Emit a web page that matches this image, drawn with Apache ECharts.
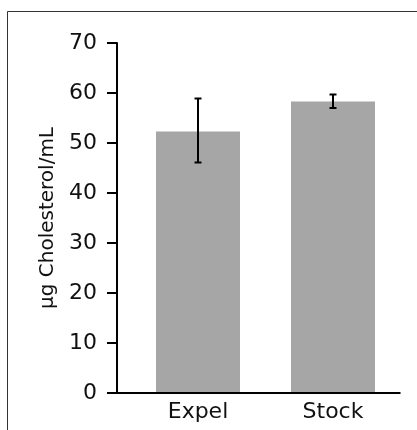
<!DOCTYPE html>
<html><head><meta charset="utf-8">
<script src="https://cdn.jsdelivr.net/npm/echarts@6/dist/echarts.min.js"></script>
<style>html,body{margin:0;padding:0;background:#fff}#c{width:417px;height:430px}</style>
</head><body><div id="c"></div>
<script>
const categories = ['Expel', 'Stock'];
const means = [52.3, 58.3];
const errLow = [46.1, 57.0];
const errHigh = [58.9, 59.7];
const yTicks = [0, 10, 20, 30, 40, 50, 60, 70];
const yTitle = 'µg Cholesterol/mL';

const chart = echarts.init(document.getElementById('c'), null, {renderer: 'canvas'});
const FONT = 'DejaVu Sans';
const option = {
  animation: false,
  backgroundColor: '#fff',
  grid: {left: 130.5, right: 16.5, top: 43, bottom: 37, containLabel: false},
  xAxis: {
    type: 'category', data: categories,
    axisLine: {show: false},
    axisTick: {show: false},
    axisLabel: {color: '#111', fontSize: 22, fontFamily: FONT, margin: 8}
  },
  yAxis: {
    type: 'value', min: yTicks[0], max: yTicks[yTicks.length - 1], interval: 10,
    offset: 13.5,
    name: yTitle, nameLocation: 'middle', nameGap: 58,
    nameTextStyle: {color: '#111', fontSize: 20, fontFamily: FONT},
    axisLine: {show: true, lineStyle: {color: '#000', width: 2}},
    axisTick: {show: true, length: 10, lineStyle: {color: '#000', width: 2}},
    axisLabel: {color: '#111', fontSize: 22, fontFamily: FONT, margin: 20},
    splitLine: {show: false}
  },
  series: [
    {type: 'bar', data: means, barWidth: 84, itemStyle: {color: '#a5a6a5'}},
    {
      type: 'custom', z: 10,
      data: categories.map((c, i) => [i, errLow[i], errHigh[i]]),
      renderItem: function (params, api) {
        const lo = api.coord([api.value(0), api.value(1)]);
        const hi = api.coord([api.value(0), api.value(2)]);
        const hw = 3.5;
        const st = {stroke: '#000', lineWidth: 2};
        return {type: 'group', children: [
          {type: 'line', shape: {x1: lo[0], y1: lo[1], x2: hi[0], y2: hi[1]}, style: st},
          {type: 'line', shape: {x1: lo[0] - hw, y1: lo[1], x2: lo[0] + hw, y2: lo[1]}, style: st},
          {type: 'line', shape: {x1: hi[0] - hw, y1: hi[1], x2: hi[0] + hw, y2: hi[1]}, style: st}
        ]};
      }
    }
  ]
};
chart.setOption(option);
const y0 = Math.round(chart.convertToPixel({yAxisIndex: 0}, 0));
chart.setOption({
  graphic: [
    {type: 'rect', shape: {x: 7.5, y: 11.5, width: 600, height: 600}, style: {fill: null, stroke: '#333', lineWidth: 1}, z: 0},
    {type: 'line', shape: {x1: 107, y1: y0, x2: 400.5, y2: y0}, style: {stroke: '#000', lineWidth: 2}, z: 5}
  ]
});
</script></body></html>
